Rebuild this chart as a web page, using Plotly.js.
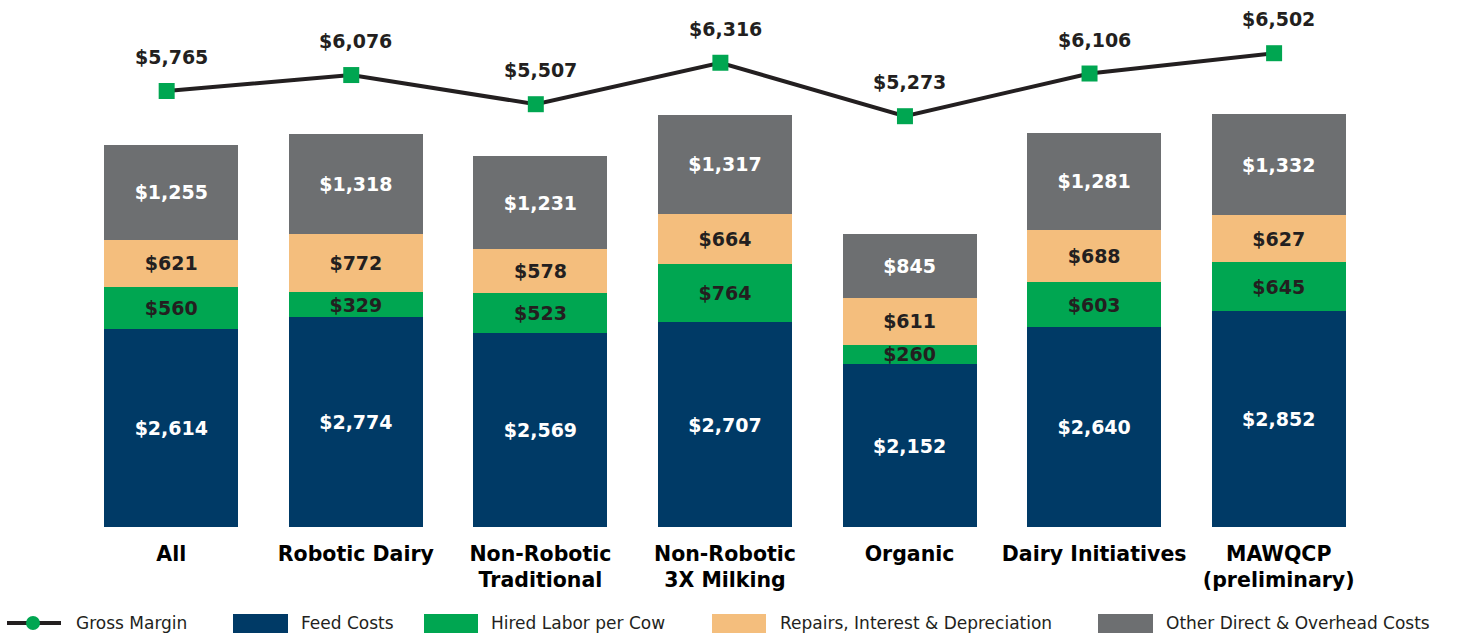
<!DOCTYPE html>
<html>
<head>
<meta charset="utf-8">
<script src="https://cdn.plot.ly/plotly-3.0.1.min.js"></script>
<style>html,body{margin:0;padding:0;background:#fff;}#chart{width:1460px;height:633px;}</style>
</head>
<body>
<div id="chart"></div>
<script>
const categories = ["All", "Robotic Dairy", "Non-Robotic<br>Traditional", "Non-Robotic<br>3X Milking", "Organic", "Dairy Initiatives", "MAWQCP<br>(preliminary)"];
const feedCosts = [2614, 2774, 2569, 2707, 2152, 2640, 2852];
const hiredLabor = [560, 329, 523, 764, 260, 603, 645];
const repairs = [621, 772, 578, 664, 611, 688, 627];
const otherCosts = [1255, 1318, 1231, 1317, 845, 1281, 1332];
const grossMargin = [5765, 6076, 5507, 6316, 5273, 6106, 6502];

const seriesNames = ["Feed Costs", "Hired Labor per Cow", "Repairs, Interest &amp; Depreciation", "Other Direct &amp; Overhead Costs"];
const colors = {navy: "#003a66", green: "#00a651", tan: "#f4be7d", grey: "#6d6f71", dark: "#231f20"};

const FONT = "DejaVu Sans";
const W = 1460, H = 633;
const M = {l: 79, r: 89, t: 10, b: 106};
const PW = W - M.l - M.r, PH = H - M.t - M.b;
const px = v => (v - M.l) / PW;
const py = v => (H - M.b - v) / PH;

function barTrace(name, vals, color, textColor) {
  return {
    type: "bar", name: name, x: categories, y: vals,
    marker: {color: color, line: {width: 0}},
    texttemplate: "$%{y:,.0f}", textposition: "inside", insidetextanchor: "middle",
    textangle: 0, constraintext: "none",
    insidetextfont: {family: FONT, size: 19, color: textColor, weight: "bold"},
    hoverinfo: "skip", showlegend: false
  };
}

const traces = [
  barTrace(seriesNames[0], feedCosts, colors.navy, "#ffffff"),
  barTrace(seriesNames[1], hiredLabor, colors.green, colors.dark),
  barTrace(seriesNames[2], repairs, colors.tan, colors.dark),
  barTrace(seriesNames[3], otherCosts, colors.grey, "#ffffff"),
  {
    type: "scatter", mode: "lines+markers", name: "Gross Margin",
    x: categories, y: grossMargin, xaxis: "x2", yaxis: "y2",
    line: {color: colors.dark, width: 4},
    marker: {symbol: "square", size: 16, color: colors.green},
    hoverinfo: "skip", showlegend: false, cliponaxis: false
  }
];

const annotations = grossMargin.map((v, i) => ({
  x: categories[i], y: v, xref: "x", yref: "y2", yshift: 34,
  text: "$" + v.toLocaleString("en-US"), showarrow: false,
  font: {family: FONT, size: 19, color: colors.dark, weight: "bold"}
}));

const shapes = [];
const legendY = 623;
shapes.push({type: "line", xref: "paper", yref: "paper", x0: px(7), x1: px(61), y0: py(legendY), y1: py(legendY), line: {color: colors.dark, width: 4}});
shapes.push({type: "circle", xref: "paper", yref: "paper", x0: px(26), x1: px(40), y0: py(legendY + 7), y1: py(legendY - 7), fillcolor: colors.green, line: {width: 0}});
annotations.push({xref: "paper", yref: "paper", x: px(74), y: py(legendY), xanchor: "left", yanchor: "middle", showarrow: false, text: "Gross Margin", font: {family: FONT, size: 17, color: colors.dark}});

const legendBoxes = [
  {x0: 233, x1: 288, tx: 299, color: colors.navy, label: seriesNames[0]},
  {x0: 424, x1: 478, tx: 489, color: colors.green, label: seriesNames[1]},
  {x0: 712, x1: 766, tx: 778, color: colors.tan, label: seriesNames[2]},
  {x0: 1098, x1: 1153, tx: 1164, color: colors.grey, label: seriesNames[3]}
];
legendBoxes.forEach(b => {
  shapes.push({type: "rect", xref: "paper", yref: "paper", x0: px(b.x0), x1: px(b.x1), y0: py(633), y1: py(614), fillcolor: b.color, line: {width: 0}});
  annotations.push({xref: "paper", yref: "paper", x: px(b.tx), y: py(legendY), xanchor: "left", yanchor: "middle", showarrow: false, text: b.label, font: {family: FONT, size: 17, color: colors.dark}});
});

const layout = {
  width: W, height: H,
  margin: M,
  paper_bgcolor: "#ffffff", plot_bgcolor: "#ffffff",
  barmode: "stack", bargap: 0.274,
  showlegend: false,
  xaxis: {
    type: "category", range: [-0.5, 6.5], showgrid: false, zeroline: false, showline: false, ticks: "",
    tickfont: {family: FONT, size: 20.5, color: "#000000", weight: "bold"},
    ticklabelstandoff: 12,
    fixedrange: true
  },
  xaxis2: {
    type: "category", overlaying: "x", range: [-0.475, 6.525], visible: false, showgrid: false, zeroline: false, fixedrange: true
  },
  yaxis: {range: [0, 6835], visible: false, showgrid: false, zeroline: false, fixedrange: true},
  yaxis2: {range: [-2741, 7345], overlaying: "y", side: "right", visible: false, showgrid: false, zeroline: false, fixedrange: true},
  annotations: annotations,
  shapes: shapes
};

Plotly.newPlot("chart", traces, layout, {displayModeBar: false, staticPlot: true});
</script>
</body>
</html>
